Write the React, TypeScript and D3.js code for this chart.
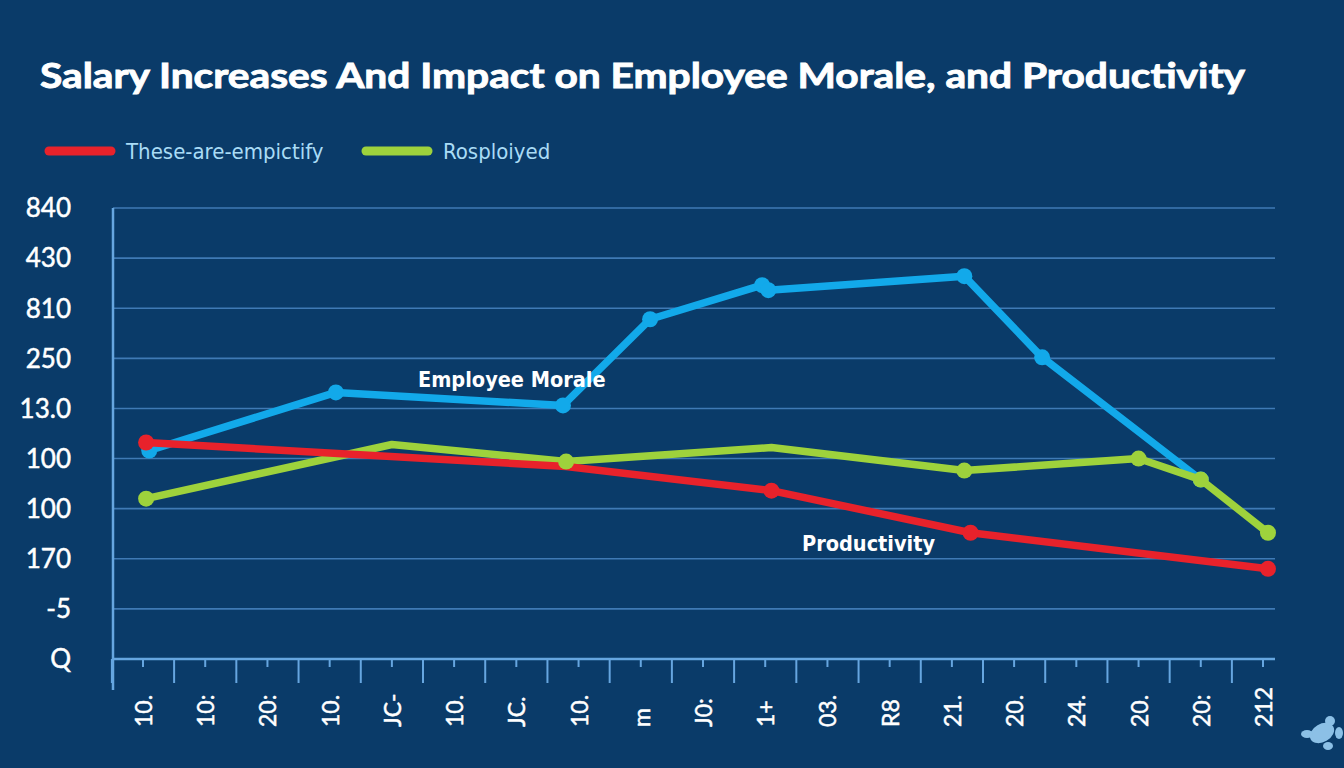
import React from 'react';
import * as d3 from 'd3';

// category labels along the bottom (rotated in the picture)
const categories = ["10.", "10:", "20:", "10.", "JC-", "10.", "JC.", "10.", "m", "J0:", "1+", "03.", "R8", "21.", "20.", "24.", "20.", "20:", "212"];

// y tick labels, bottom to top (one per grid line)
const yTickLabels = ["Q", "-5", "170", "100", "100", "13.0", "250", "810", "430", "840"];

// Employee Morale (blue)
const moraleX = [0.1, 3.1, 6.75, 8.15, 9.95, 10.05, 13.2, 14.45, 17.0];
const moraleY = [4.16, 5.32, 5.06, 6.78, 7.46, 7.36, 7.64, 6.02, 3.58];
const moraleDots = [true, true, true, true, true, true, true, true, true];

// Productivity (red)
const productivityX = [0.05, 6.8, 10.1, 13.3, 18.08];
const productivityY = [4.32, 3.84, 3.36, 2.52, 1.8];
const productivityDots = [true, false, true, true, true];

// Rosploiyed (green)
const greenX = [0.05, 4.0, 6.8, 10.1, 13.2, 16.0, 17.0, 18.08];
const greenY = [3.2, 4.28, 3.94, 4.22, 3.76, 4.0, 3.58, 2.52];
const greenDots = [true, false, true, false, true, true, true, true];

const legendItems = [
  { label: "These-are-empictify", color: "#e8222b" },
  { label: "Rosploiyed", color: "#9ed23c" },
];

const W = 1344;
const H = 768;

const BLUE = "#12a9ea";
const RED = "#e8222b";
const GREEN = "#9ed23c";

type Pt = { x: number; y: number; dot: boolean };

const zipSeries = (xs: number[], ys: number[], dots: boolean[]): Pt[] =>
  xs.map((x, i) => ({ x, y: ys[i], dot: dots[i] }));

const App: React.FC = () => {
  const x = d3.scaleLinear().domain([0, categories.length - 1]).range([143, 1263]);
  const y = d3.scaleLinear().domain([0, yTickLabels.length - 1]).range([659, 208]);

  const line = d3.line<Pt>().x(d => x(d.x)).y(d => y(d.y));

  const morale = zipSeries(moraleX, moraleY, moraleDots);
  const productivity = zipSeries(productivityX, productivityY, productivityDots);
  const green = zipSeries(greenX, greenY, greenDots);

  const axisLeft = 113;
  const axisRight = 1275;
  const step = x(1) - x(0);

  const dots = (pts: Pt[], color: string, key: string) =>
    pts.filter(d => d.dot).map((d, i) => (
      <circle key={key + i} cx={x(d.x)} cy={y(d.y)} r={8} fill={color} />
    ));

  return (
    <svg width={W} height={H} style={{ position: 'fixed', left: 0, top: 0, display: 'block' }}>
      <rect width={W} height={H} fill="#0a3b69" />

      {/* title */}
      <text x={40} y={88} fill="#ffffff" stroke="#ffffff" strokeWidth={0.9}
        fontFamily="Lato, 'Open Sans', sans-serif" fontWeight="bold"
        fontSize={35} textLength={1205} lengthAdjust="spacingAndGlyphs">
        Salary Increases And Impact on Employee Morale, and Productivity
      </text>

      {/* legend */}
      {legendItems.map((d, i) => {
        const x0 = i === 0 ? 45 : 362;
        return (
          <g key={d.label}>
            <line x1={x0 + 4} x2={x0 + 66} y1={151} y2={151} stroke={d.color} strokeWidth={9} strokeLinecap="round" />
            <text x={x0 + 81} y={159} fill="#a9dcf6" fontSize={22}
              fontFamily="'DejaVu Sans Condensed', 'DejaVu Sans', sans-serif">{d.label}</text>
          </g>
        );
      })}

      {/* grid lines */}
      {yTickLabels.slice(1).map((_, i) => (
        <line key={'g' + i} x1={axisLeft} x2={axisRight} y1={y(i + 1)} y2={y(i + 1)}
          stroke="#3f7ab5" strokeWidth={1.6} />
      ))}

      {/* y tick labels */}
      {yTickLabels.map((t, i) => (
        <text key={'yl' + i} x={71} y={y(i)} dy="0.36em" textAnchor="end" fill="#ffffff"
          stroke="#ffffff" strokeWidth={0.5}
          fontFamily="Lato, 'Open Sans', sans-serif" fontSize={26}>{t}</text>
      ))}

      {/* axes */}
      <line x1={axisLeft} x2={axisLeft} y1={208} y2={690} stroke="#66a6e0" strokeWidth={2.5} />
      <line x1={axisLeft} x2={axisRight} y1={y(0)} y2={y(0)} stroke="#66a6e0" strokeWidth={2.5} />

      {/* x ticks: long at band edges, short at category centres */}
      {categories.map((_, i) => (
        <g key={'t' + i}>
          <line x1={x(i) - step / 2} x2={x(i) - step / 2} y1={y(0)} y2={y(0) + 24} stroke="#66a6e0" strokeWidth={2} />
          <line x1={x(i)} x2={x(i)} y1={y(0)} y2={y(0) + 8} stroke="#66a6e0" strokeWidth={2} />
        </g>
      ))}

      {/* x labels, rotated */}
      {categories.map((c, i) => (
        <text key={'xl' + i} transform={`translate(${x(i)},727) rotate(-90)`} dominantBaseline="central"
          fill="#ffffff" stroke="#ffffff" strokeWidth={0.5}
          fontFamily="Lato, 'Open Sans', sans-serif" fontSize={23}>{c}</text>
      ))}

      {/* series */}
      <path d={line(morale) || ''} fill="none" stroke={BLUE} strokeWidth={7.5} strokeLinejoin="round" strokeLinecap="round" />
      {dots(morale, BLUE, 'b')}
      <path d={line(green) || ''} fill="none" stroke={GREEN} strokeWidth={7.5} strokeLinejoin="round" strokeLinecap="round" />
      <path d={line(productivity) || ''} fill="none" stroke={RED} strokeWidth={7.5} strokeLinejoin="round" strokeLinecap="round" />
      {dots(productivity, RED, 'r')}
      {dots(green, GREEN, 'gr')}

      {/* direct labels */}
      <text x={418} y={387} fill="#ffffff" fontWeight="bold" fontSize={21.5}
        fontFamily="'DejaVu Sans Condensed', 'DejaVu Sans', sans-serif">Employee Morale</text>
      <text x={802} y={551} fill="#ffffff" fontWeight="bold" fontSize={21.5}
        fontFamily="'DejaVu Sans Condensed', 'DejaVu Sans', sans-serif">Productivity</text>

      {/* little watermark blob */}
      <g fill="#8cc0e6">
        <ellipse cx={1322} cy={733} rx={13} ry={9} transform="rotate(-30 1322 733)" />
        <ellipse cx={1307} cy={734} rx={6} ry={4} />
        <ellipse cx={1330} cy={721} rx={5} ry={5} />
        <ellipse cx={1328} cy={746} rx={5} ry={4} />
        <ellipse cx={1339} cy={733} rx={4} ry={6} />
      </g>
    </svg>
  );
};

export default App;
